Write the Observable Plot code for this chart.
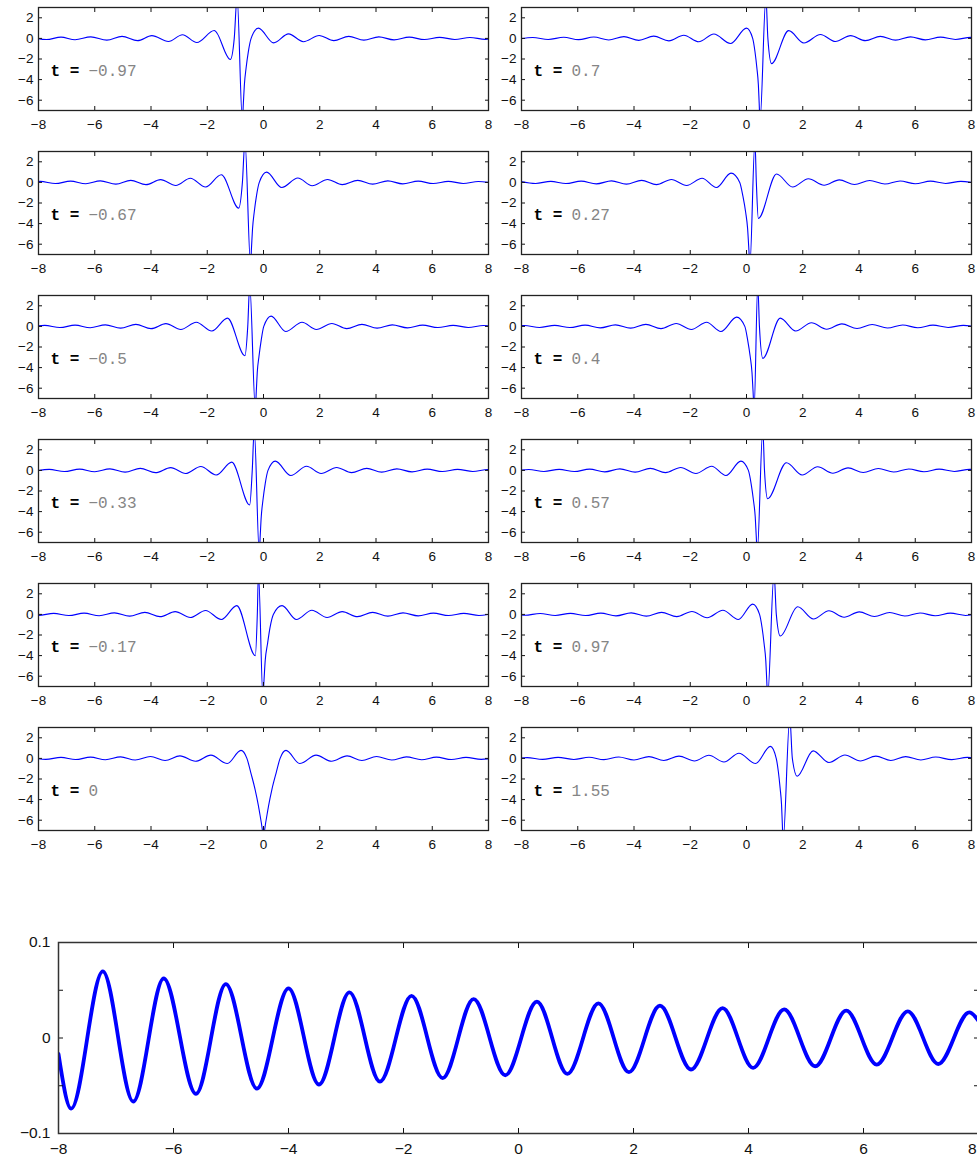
<!DOCTYPE html>
<html>
<head>
<meta charset="utf-8">
<script src="https://cdn.jsdelivr.net/npm/d3@7"></script>
<script src="https://cdn.jsdelivr.net/npm/@observablehq/plot@0.6"></script>
<style>
  html, body { margin: 0; padding: 0; background: #fff; overflow: hidden; }
  #root { position: relative; width: 977px; height: 1164px; overflow: hidden; }
  #root svg { position: absolute; max-width: none !important; }
</style>
</head>
<body>
<div id="root"></div>
<script>
// ---------- data ----------
const xTicks = [-8, -6, -4, -2, 0, 2, 4, 6, 8];
const yTicksSmall = [-6, -4, -2, 0, 2];
const yTicksBig = [-0.1, 0, 0.1];
const yTickMarksBig = [-0.1, -0.05, 0, 0.05, 0.1];

const tLeft = ["-0.97", "-0.67", "-0.5", "-0.33", "-0.17", "0"];
const tRight = ["0.7", "0.27", "0.4", "0.57", "0.97", "1.55"];

// [x, u] samples (extrema and flank points) per panel
const curve_m097 = [[-8.25,0.1],[-7.72,-0.11],[-7.2,0.12],[-6.7,-0.13],[-6.14,0.15],[-5.57,-0.17],[-5.03,0.2],[-4.48,-0.22],[-3.97,0.27],[-3.38,-0.3],[-2.88,0.36],[-2.37,-0.4],[-1.75,0.76],[-1.18,-2.05],[-1.04,0],[-0.94,4],[-0.75,-8],[-0.716,-6.3],[-0.68,-4.5],[-0.62,-2.9],[-0.54,-1.3],[-0.44,0],[-0.18,1.0],[0.36,-0.43],[0.89,0.44],[1.42,-0.32],[1.98,0.28],[2.5,-0.22],[3.03,0.2],[3.57,-0.17],[4.1,0.15],[4.64,-0.14],[5.18,0.12],[5.72,-0.11],[6.26,0.1],[6.8,-0.1],[7.34,0.09],[7.88,-0.09],[8.42,0.08]];
const curve_m067 = [[-8.48,-0.09],[-7.94,0.1],[-7.4,-0.11],[-6.86,0.12],[-6.32,-0.13],[-5.8,0.15],[-5.25,-0.17],[-4.72,0.2],[-4.18,-0.22],[-3.66,0.27],[-3.12,-0.3],[-2.6,0.4],[-2.06,-0.45],[-1.5,0.75],[-0.88,-2.5],[-0.75,0],[-0.66,4],[-0.46,-8],[-0.426,-6.3],[-0.39,-4.5],[-0.33,-2.9],[-0.25,-1.3],[-0.15,0],[0.11,1.0],[0.65,-0.5],[1.22,0.43],[1.73,-0.32],[2.28,0.28],[2.8,-0.22],[3.35,0.2],[3.88,-0.17],[4.42,0.15],[4.95,-0.14],[5.5,0.12],[6.03,-0.11],[6.57,0.1],[7.1,-0.1],[7.64,0.09],[8.18,-0.09]];
const curve_m050 = [[-8.32,-0.09],[-7.78,0.1],[-7.24,-0.11],[-6.7,0.12],[-6.16,-0.13],[-5.62,0.15],[-5.08,-0.17],[-4.54,0.2],[-4.0,-0.22],[-3.47,0.27],[-2.94,-0.3],[-2.39,0.4],[-1.84,-0.45],[-1.28,0.8],[-0.66,-2.85],[-0.56,0],[-0.49,4],[-0.29,-8],[-0.256,-6.3],[-0.223,-4.5],[-0.16,-2.9],[-0.08,-1.3],[0.01,0],[0.27,1.0],[0.79,-0.5],[1.37,0.4],[1.88,-0.3],[2.43,0.28],[2.96,-0.22],[3.5,0.2],[4.04,-0.17],[4.58,0.15],[5.12,-0.14],[5.66,0.12],[6.2,-0.11],[6.74,0.1],[7.28,-0.1],[7.82,0.09],[8.36,-0.09]];
const curve_m033 = [[-8.16,-0.09],[-7.62,0.1],[-7.08,-0.11],[-6.54,0.12],[-6.0,-0.13],[-5.46,0.15],[-4.92,-0.17],[-4.38,0.2],[-3.84,-0.22],[-3.3,0.27],[-2.77,-0.3],[-2.23,0.38],[-1.68,-0.45],[-1.13,0.8],[-0.49,-3.35],[-0.4,0],[-0.33,4],[-0.15,-8],[-0.116,-6.3],[-0.08,-4.5],[-0.02,-2.9],[0.06,-1.3],[0.16,0],[0.42,0.9],[0.97,-0.5],[1.53,0.4],[2.05,-0.3],[2.6,0.28],[3.13,-0.22],[3.67,0.2],[4.2,-0.17],[4.74,0.15],[5.28,-0.14],[5.82,0.12],[6.36,-0.11],[6.9,0.1],[7.44,-0.1],[7.98,0.09],[8.52,-0.09]];
const curve_m017 = [[-8.54,0.08],[-8.0,-0.09],[-7.46,0.1],[-6.92,-0.11],[-6.38,0.12],[-5.84,-0.13],[-5.3,0.15],[-4.76,-0.17],[-4.22,0.2],[-3.68,-0.22],[-3.14,0.27],[-2.6,-0.3],[-2.06,0.38],[-1.5,-0.5],[-0.95,0.85],[-0.29,-4.0],[-0.22,0],[-0.18,4],[-0.02,-8],[0.02,-6.3],[0.06,-4.5],[0.14,-2.9],[0.23,-1.3],[0.35,0],[0.66,0.85],[1.17,-0.5],[1.72,0.4],[2.26,-0.3],[2.8,0.27],[3.34,-0.22],[3.88,0.2],[4.42,-0.17],[4.96,0.15],[5.5,-0.14],[6.04,0.12],[6.58,-0.11],[7.12,0.1],[7.66,-0.1],[8.2,0.09]];
const curve_p000 = [[-8.28,0.08],[-7.74,-0.09],[-7.2,0.1],[-6.68,-0.11],[-6.15,0.12],[-5.62,-0.13],[-5.08,0.15],[-4.56,-0.16],[-4.02,0.18],[-3.5,-0.2],[-2.97,0.25],[-2.42,-0.28],[-1.87,0.32],[-1.29,-0.5],[-0.8,0.78],[-0.59,0],[-0.45,-1.4],[-0.3,-3.0],[-0.18,-4.6],[-0.08,-6.2],[0,-7.4],[0.08,-6.2],[0.18,-4.6],[0.3,-3.0],[0.45,-1.4],[0.59,0],[0.8,0.78],[1.29,-0.5],[1.87,0.32],[2.42,-0.28],[2.97,0.25],[3.5,-0.2],[4.02,0.18],[4.56,-0.16],[5.08,0.15],[5.62,-0.13],[6.15,0.12],[6.68,-0.11],[7.2,0.1],[7.74,-0.09],[8.28,0.08]];
const curve_p070 = [[-8.14,-0.08],[-7.6,0.09],[-7.05,-0.1],[-6.5,0.11],[-5.97,-0.12],[-5.43,0.13],[-4.9,-0.15],[-4.36,0.17],[-3.83,-0.19],[-3.3,0.22],[-2.76,-0.24],[-2.23,0.3],[-1.7,-0.33],[-1.16,0.43],[-0.57,-0.5],[0.0,1.0],[0.22,0],[0.302,-1.3],[0.37,-2.9],[0.422,-4.5],[0.451,-6.3],[0.48,-8],[0.69,4],[0.76,0],[0.89,-2.45],[1.5,0.75],[2.04,-0.45],[2.63,0.38],[3.16,-0.3],[3.7,0.27],[4.23,-0.22],[4.76,0.2],[5.3,-0.17],[5.83,0.15],[6.36,-0.14],[6.9,0.12],[7.43,-0.1],[7.97,0.1],[8.5,-0.09]];
const curve_p027 = [[-8.04,0.09],[-7.5,-0.1],[-6.96,0.1],[-6.42,-0.11],[-5.88,0.12],[-5.34,-0.14],[-4.8,0.15],[-4.27,-0.17],[-3.73,0.2],[-3.2,-0.22],[-2.67,0.28],[-2.13,-0.3],[-1.58,0.4],[-1.07,-0.5],[-0.55,0.9],[-0.24,0],[-0.13,-1.3],[-0.03,-2.9],[0.04,-4.5],[0.08,-6.3],[0.12,-8],[0.3,4],[0.35,0],[0.42,-3.5],[1.07,0.82],[1.64,-0.45],[2.2,0.35],[2.76,-0.28],[3.3,0.25],[3.84,-0.2],[4.38,0.18],[4.92,-0.16],[5.46,0.14],[6.0,-0.13],[6.54,0.12],[7.08,-0.1],[7.62,0.1],[8.16,-0.09]];
const curve_p040 = [[-8.44,-0.08],[-7.9,0.09],[-7.36,-0.1],[-6.82,0.1],[-6.28,-0.11],[-5.74,0.12],[-5.2,-0.14],[-4.66,0.15],[-4.12,-0.17],[-3.58,0.2],[-3.04,-0.22],[-2.5,0.28],[-1.96,-0.3],[-1.42,0.4],[-0.91,-0.5],[-0.35,0.9],[-0.06,0],[0.04,-1.3],[0.13,-2.9],[0.196,-4.5],[0.233,-6.3],[0.27,-8],[0.4,4],[0.46,0],[0.58,-3.1],[1.2,0.8],[1.75,-0.45],[2.31,0.35],[2.85,-0.28],[3.39,0.25],[3.93,-0.2],[4.47,0.18],[5.01,-0.16],[5.55,0.14],[6.09,-0.13],[6.63,0.12],[7.17,-0.1],[7.71,0.1],[8.25,-0.09]];
const curve_p057 = [[-8.28,-0.08],[-7.74,0.09],[-7.2,-0.1],[-6.66,0.1],[-6.12,-0.11],[-5.58,0.12],[-5.04,-0.14],[-4.5,0.15],[-3.96,-0.17],[-3.42,0.2],[-2.88,-0.22],[-2.34,0.28],[-1.8,-0.3],[-1.24,0.4],[-0.73,-0.5],[-0.2,0.9],[0.067,0],[0.165,-1.3],[0.247,-2.9],[0.31,-4.5],[0.345,-6.3],[0.38,-8],[0.58,4],[0.64,0],[0.75,-2.75],[1.42,0.75],[1.98,-0.45],[2.53,0.35],[3.07,-0.28],[3.61,0.25],[4.15,-0.2],[4.69,0.18],[5.23,-0.16],[5.77,0.14],[6.31,-0.13],[6.85,0.12],[7.39,-0.1],[7.93,0.1],[8.47,-0.09]];
const curve_p097 = [[-8.42,0.08],[-7.88,-0.08],[-7.34,0.09],[-6.8,-0.1],[-6.26,0.1],[-5.72,-0.11],[-5.18,0.12],[-4.64,-0.14],[-4.1,0.15],[-3.56,-0.17],[-3.02,0.2],[-2.48,-0.22],[-1.94,0.28],[-1.4,-0.32],[-0.84,0.4],[-0.29,-0.5],[0.22,1.0],[0.464,0],[0.554,-1.3],[0.628,-2.9],[0.686,-4.5],[0.718,-6.3],[0.75,-8],[0.98,4],[1.06,0],[1.2,-2.1],[1.82,0.75],[2.38,-0.45],[2.93,0.35],[3.47,-0.28],[4.01,0.25],[4.55,-0.2],[5.09,0.18],[5.63,-0.16],[6.17,0.14],[6.71,-0.13],[7.25,0.12],[7.79,-0.1],[8.33,0.1]];
const curve_p155 = [[-8.34,-0.08],[-7.8,0.08],[-7.25,-0.09],[-6.7,0.1],[-6.14,-0.1],[-5.6,0.11],[-5.07,-0.12],[-4.54,0.14],[-4.0,-0.15],[-3.47,0.17],[-2.94,-0.2],[-2.4,0.22],[-1.85,-0.25],[-1.34,0.3],[-0.8,-0.35],[-0.27,0.5],[0.32,-0.5],[0.85,1.17],[1.057,0],[1.133,-1.3],[1.196,-2.9],[1.246,-4.5],[1.273,-6.3],[1.3,-8],[1.54,4],[1.63,0],[1.8,-1.73],[2.37,0.73],[2.93,-0.4],[3.5,0.33],[4.05,-0.25],[4.6,0.22],[5.13,-0.2],[5.66,0.17],[6.2,-0.15],[6.73,0.13],[7.3,-0.12],[7.85,0.1],[8.4,-0.09]];

// bottom panel: decaying oscillation
const curve_bottom = [[-8,-0.0167],[-7.78,-0.074],[-7.23,0.0697],[-6.70,-0.0665],[-6.17,0.0623],[-5.61,-0.0585],[-5.09,0.0564],[-4.55,-0.053],[-4.0,0.052],[-3.47,-0.0487],[-2.94,0.0477],[-2.41,-0.0456],[-1.86,0.0442],[-1.32,-0.042],[-0.78,0.0407],[-0.23,-0.039],[0.32,0.038],[0.85,-0.0376],[1.39,0.0362],[1.92,-0.0358],[2.46,0.0338],[3.0,-0.033],[3.55,0.0313],[4.08,-0.0313],[4.62,0.03],[5.16,-0.0296],[5.7,0.0286],[6.23,-0.0279],[6.77,0.0279],[7.3,-0.0272],[7.84,0.0268],[8,0.018]];

const leftCurves = [curve_m097, curve_m067, curve_m050, curve_m033, curve_m017, curve_p000];
const rightCurves = [curve_p070, curve_p027, curve_p040, curve_p057, curve_p097, curve_p155];

// ---------- drawing ----------
const root = document.getElementById("root");
const mono = "'Liberation Mono','DejaVu Sans Mono',monospace";
const sans = "'Liberation Sans',Arial,Helvetica,sans-serif";
const minus = s => String(s).replace("-", "\u2212");

function place(svg, left, top) {
  svg.style.left = left + "px";
  svg.style.top = top + "px";
  svg.style.maxWidth = "none";
  root.appendChild(svg);
}

function smallPanel(curve, label, left, top) {
  const svg = Plot.plot({
    width: 490, height: 140,
    marginLeft: 38, marginRight: 2, marginTop: 7, marginBottom: 30,
    style: {background: "transparent", overflow: "visible", fontFamily: sans, fontSize: "13.5px", color: "#111"},
    x: {domain: [-8, 8]},
    y: {domain: [-7, 3]},
    marks: [
      Plot.line(curve, {x: d => d[0], y: d => d[1], curve: "monotone-x", stroke: "#0000ff", strokeWidth: 1.1, clip: true}),
      Plot.axisX(xTicks, {anchor: "bottom", tickSize: 0, tickPadding: 9, label: null}),
      Plot.axisX(xTicks, {anchor: "bottom", tickSize: -4, fill: "none", label: null}),
      Plot.axisX(xTicks, {anchor: "top", tickSize: -4, fill: "none", label: null}),
      Plot.axisY(yTicksSmall, {anchor: "left", tickSize: 0, tickPadding: 5, label: null}),
      Plot.axisY(yTicksSmall, {anchor: "left", tickSize: -4, fill: "none", label: null}),
      Plot.axisY(yTicksSmall, {anchor: "right", tickSize: -4, fill: "none", label: null}),
      Plot.frame({stroke: "#222", strokeWidth: 1.3}),
      Plot.text([label], {frameAnchor: "left", dx: 12, dy: 12, text: () => "t =", fontFamily: mono, fontWeight: "bold", fontSize: 16, fill: "#000", textAnchor: "start"}),
      Plot.text([label], {frameAnchor: "left", dx: 50, dy: 12, text: d => minus(d), fontFamily: mono, fontSize: 16, fill: "#858585", textAnchor: "start"})
    ]
  });
  place(svg, left, top);
}

leftCurves.forEach((c, i) => smallPanel(c, tLeft[i], 0, 144 * i));
rightCurves.forEach((c, i) => smallPanel(c, tRight[i], 483, 144 * i));

const big = Plot.plot({
  width: 1000, height: 264,
  marginLeft: 58, marginRight: 22, marginTop: 42, marginBottom: 31,
  style: {background: "transparent", overflow: "visible", fontFamily: sans, fontSize: "15.5px", color: "#111"},
  x: {domain: [-8, 8]},
  y: {domain: [-0.1, 0.1]},
  marks: [
    Plot.line(curve_bottom, {x: d => d[0], y: d => d[1], curve: "monotone-x", stroke: "#0000ff", strokeWidth: 3.8, clip: true}),
    Plot.axisX(xTicks.slice(0, -1), {anchor: "bottom", tickSize: 0, tickPadding: 9, label: null}),
    Plot.axisX(xTicks.slice(-1), {anchor: "bottom", tickSize: 0, tickPadding: 9, textAnchor: "end", dx: -2, label: null}),
    Plot.axisX(xTicks, {anchor: "bottom", tickSize: -5, fill: "none", label: null}),
    Plot.axisX(xTicks, {anchor: "top", tickSize: -5, fill: "none", label: null}),
    Plot.axisY(yTicksBig, {anchor: "left", tickSize: 0, tickPadding: 8, tickFormat: "~g", label: null}),
    Plot.axisY(yTickMarksBig, {anchor: "left", tickSize: -5, fill: "none", label: null}),
    Plot.axisY(yTickMarksBig, {anchor: "right", tickSize: -5, fill: "none", label: null}),
    Plot.frame({stroke: "#333", strokeWidth: 1.5})
  ]
});
place(big, 0, 900);
</script>
</body>
</html>
